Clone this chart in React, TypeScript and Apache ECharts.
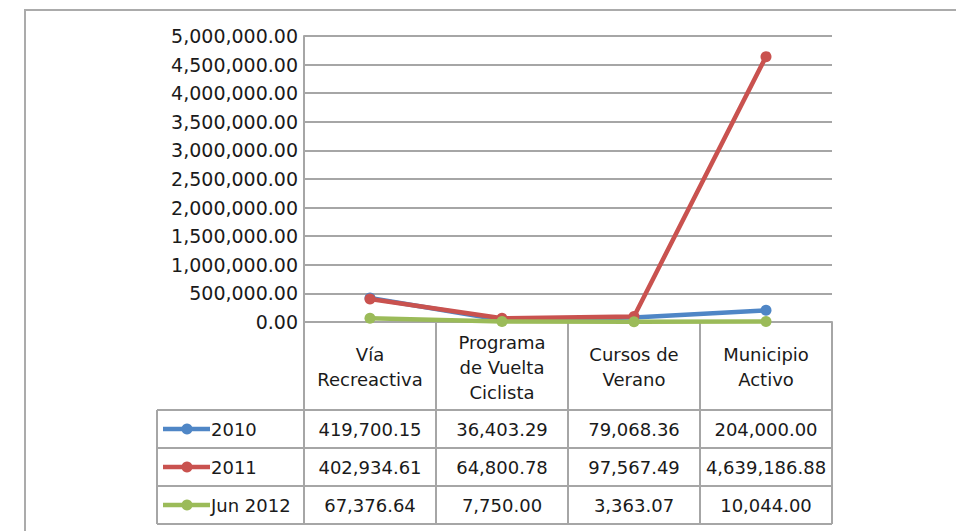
import React, { useEffect, useRef } from "react";
import * as echarts from "echarts";

const categories = ["Vía\nRecreactiva", "Programa\nde Vuelta\nCiclista", "Cursos de\nVerano", "Municipio\nActivo"];
const seriesNames = ["2010", "2011", "Jun 2012"];
const values2010 = [419700.15, 36403.29, 79068.36, 204000.0];
const values2011 = [402934.61, 64800.78, 97567.49, 4639186.88];
const valuesJun2012 = [67376.64, 7750.0, 3363.07, 10044.0];
const colors = ["#4F86C6", "#C9524F", "#9BBB59"];
const yTicks = { min: 0, max: 5000000, interval: 500000 };

const FONT = "DejaVu Sans";
const GRID_COLOR = "#a6a6a6";
const TEXT_COLOR = "#1a1a1a";

const fmt = (v: number) =>
  v.toLocaleString("en-US", { minimumFractionDigits: 2, maximumFractionDigits: 2 });

export default function App() {
  const ref = useRef<HTMLDivElement>(null);
  useEffect(() => {
    if (!ref.current) return;
    const chart = echarts.init(ref.current, null, { renderer: "svg" });
    const allSeries = [values2010, values2011, valuesJun2012];
    const option: any = {
      animation: false,
      grid: { left: 304, right: 124, top: 36, bottom: 209, containLabel: false },
      xAxis: {
        type: "category",
        data: categories,
        boundaryGap: true,
        axisLine: { show: true, lineStyle: { color: GRID_COLOR, width: 2 } },
        axisTick: { show: true, length: 202, interval: 0, alignWithLabel: false, lineStyle: { color: GRID_COLOR, width: 2 } },
        axisLabel: {
          interval: 0,
          margin: 45,
          verticalAlign: "middle",
          lineHeight: 25,
          fontFamily: FONT,
          fontSize: 18,
          color: TEXT_COLOR,
        },
      },
      yAxis: {
        type: "value",
        min: yTicks.min,
        max: yTicks.max,
        interval: yTicks.interval,
        axisLine: { show: true, lineStyle: { color: GRID_COLOR, width: 2 } },
        axisTick: { show: false },
        splitLine: { show: true, lineStyle: { color: GRID_COLOR, width: 2 } },
        axisLabel: {
          margin: 6,
          fontFamily: FONT,
          fontSize: 19,
          color: TEXT_COLOR,
          formatter: (v: number) => fmt(v),
        },
      },
      series: seriesNames.map((name, i) => ({
        name,
        type: "line",
        data: allSeries[i],
        symbol: "circle",
        symbolSize: 11,
        lineStyle: { width: 4.5, color: colors[i] },
        itemStyle: { color: colors[i] },
        z: 3 + i,
      })),
    };
    chart.setOption(option);

    // Data table built from the chart's own scales
    const xs = categories.map((_, i) => chart.convertToPixel({ xAxisIndex: 0 }, i) as number);
    const y0 = chart.convertToPixel({ yAxisIndex: 0 }, 0) as number;
    const band = xs.length > 1 ? xs[1] - xs[0] : 132;
    const xRight = xs[xs.length - 1] + band / 2;
    const tableLeft = 157;
    const headerH = 88;
    const rowH = 38;
    const rowTop = y0 + headerH;
    const graphics: any[] = [];
    graphics.push({
      type: "rect",
      shape: { x: 25, y: 10, width: 1000, height: 600 },
      style: { fill: "none", stroke: "#ababab", lineWidth: 2 },
      silent: true,
    });
    for (let r = 0; r <= seriesNames.length; r++) {
      const y = rowTop + r * rowH;
      graphics.push({
        type: "line",
        shape: { x1: tableLeft, y1: y, x2: xRight, y2: y },
        style: { stroke: GRID_COLOR, lineWidth: 2 },
      });
    }
    graphics.push({
      type: "line",
      shape: { x1: tableLeft, y1: rowTop, x2: tableLeft, y2: rowTop + seriesNames.length * rowH },
      style: { stroke: GRID_COLOR, lineWidth: 2 },
    });
    seriesNames.forEach((name, r) => {
      const cy = rowTop + r * rowH + rowH / 2;
      graphics.push({
        type: "line",
        shape: { x1: tableLeft + 6, y1: cy, x2: tableLeft + 53, y2: cy },
        style: { stroke: colors[r], lineWidth: 4.5 },
      });
      graphics.push({
        type: "circle",
        shape: { cx: tableLeft + 30, cy, r: 5.5 },
        style: { fill: colors[r] },
      });
      graphics.push({
        type: "text",
        x: tableLeft + 54,
        y: cy,
        style: { text: name, fontFamily: FONT, fontSize: 18, fill: TEXT_COLOR, align: "left", verticalAlign: "middle" },
      });
      allSeries[r].forEach((v, c) => {
        graphics.push({
          type: "text",
          x: xs[c],
          y: cy,
          style: { text: fmt(v), fontFamily: FONT, fontSize: 18, fill: TEXT_COLOR, align: "center", verticalAlign: "middle" },
        });
      });
    });
    chart.setOption({ graphic: graphics });

    return () => chart.dispose();
  }, []);
  return (
    <div
      ref={ref}
      style={{ position: "fixed", left: 0, top: 0, width: 956, height: 531, background: "#ffffff" }}
    />
  );
}
